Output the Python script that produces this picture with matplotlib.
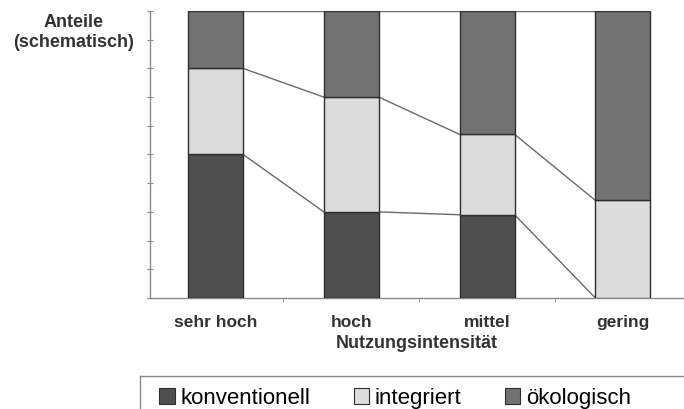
import numpy as np
import matplotlib.pyplot as plt
from matplotlib.patches import Patch
from matplotlib.lines import Line2D

plt.rcParams['font.family'] = ['Liberation Sans', 'DejaVu Sans']

# shares per intensity level (schematic, percent)
categories = ['sehr hoch', 'hoch', 'mittel', 'gering']
konventionell = [50, 30, 29, 0]
integriert = [30, 40, 28, 34]
oekologisch = [20, 30, 43, 66]
series_names = ['konventionell', 'integriert', 'ökologisch']
colors = ['#4f4f4f', '#dcdcdc', '#727272']

x = np.arange(len(categories))
width = 0.405

fig = plt.figure(figsize=(6.84, 4.09), dpi=100)
ax = fig.add_axes([0.2193, 0.2714, 0.7807, 0.7017])

stack = np.vstack([konventionell, integriert, oekologisch])
bottoms = np.zeros(len(categories))
for vals, col in zip(stack, colors):
    ax.bar(x, vals, width, bottom=bottoms, color=col, edgecolor='#2e2e2e',
           linewidth=1.0, zorder=3)
    bottoms = bottoms + vals

# connector lines between the segment boundaries of neighbouring bars
cum = np.cumsum(stack, axis=0)
for level in cum:
    for i in range(len(categories) - 1):
        ax.plot([x[i] + width / 2, x[i + 1] - width / 2], [level[i], level[i + 1]],
                color='#6a6a6a', linewidth=1.0, zorder=2)

ax.set_xlim(-0.483, 3.45)
ax.set_ylim(0, 100)
for s in ['top', 'right']:
    ax.spines[s].set_visible(False)
for s in ['left', 'bottom']:
    ax.spines[s].set_color('#8a8a8a')
    ax.spines[s].set_linewidth(1.0)

ax.set_yticks(np.arange(0, 101, 10))
ax.set_yticklabels([])
ax.tick_params(axis='y', direction='inout', length=4, color='#8a8a8a')
ax.set_xticks(x)
ax.set_xticklabels(categories, fontsize=12.5, fontweight='bold', color='#333333')
ax.tick_params(axis='x', length=0, pad=12)
ax.set_xticks([0.5, 1.5, 2.5], minor=True)
ax.tick_params(axis='x', which='minor', length=3, color='#8a8a8a')
ax.set_xlabel('Nutzungsintensität', fontsize=13, fontweight='bold', color='#333333', labelpad=4)

fig.text(0.107, 0.966, 'Anteile\n(schematisch)', ha='center', va='top',
         fontsize=13, fontweight='bold', color='#333333', linespacing=1.2)

handles = [Patch(facecolor=c, edgecolor='#2e2e2e', linewidth=0.8) for c in colors]
leg = fig.legend(handles, series_names, loc='lower left', bbox_to_anchor=(0.207, -0.043),
                 ncol=3, fontsize=16, frameon=False,
                 handlelength=0.7, handleheight=0.7, handletextpad=0.25,
                 columnspacing=1.95, borderpad=0.3)

# legend box: only top and left edges fall inside the figure
fig.add_artist(Line2D([140 / 684, 1.0], [1 - 376 / 409] * 2, transform=fig.transFigure,
                      color='#8a8a8a', linewidth=1.0))
fig.add_artist(Line2D([140 / 684] * 2, [0.0, 1 - 376 / 409], transform=fig.transFigure,
                      color='#8a8a8a', linewidth=1.0))

fig.savefig('out.png', dpi=100)
